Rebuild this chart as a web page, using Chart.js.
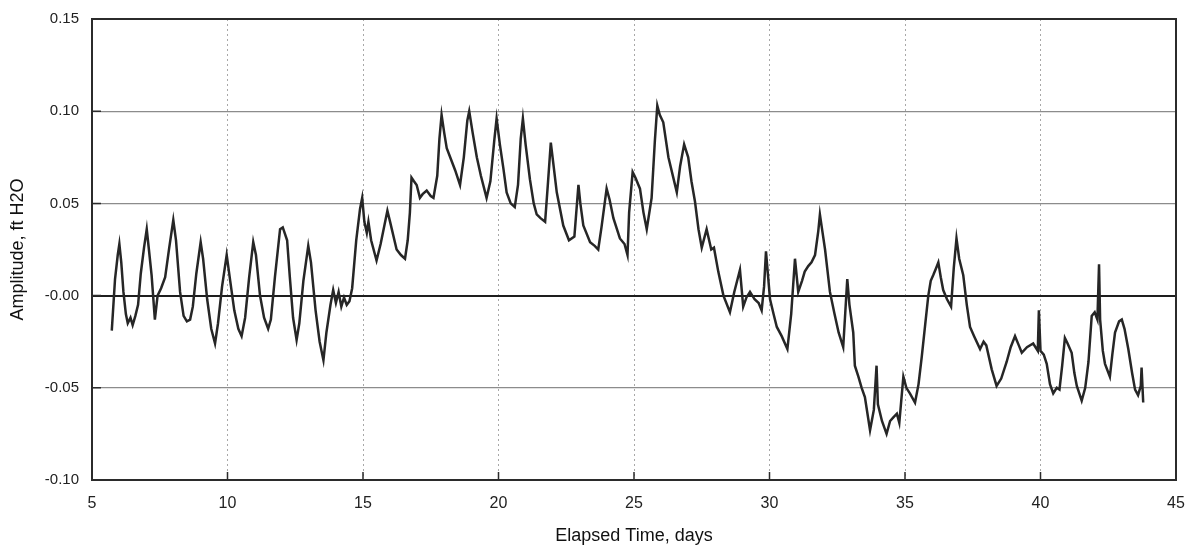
<!DOCTYPE html>
<html>
<head>
<meta charset="utf-8">
<title>Amplitude vs Elapsed Time</title>
<script src="https://cdn.jsdelivr.net/npm/chart.js@4.4.1/dist/chart.umd.min.js"></script>
<style>
  body { margin: 0; background: #fff; }
  .chartBox { width: 1188px; height: 547px; position: relative; }
</style>
</head>
<body>
<div class="chartBox">
  <canvas id="myChart"></canvas>
</div>
<script>
// elapsed time (days)
const days = [
  5.73, 5.85, 5.95, 6.01, 6.08, 6.16, 6.25, 6.32, 6.42, 6.5, 6.6, 6.7, 6.8, 6.92,
  7.02, 7.1, 7.2, 7.32, 7.42, 7.55, 7.7, 7.85, 8.0, 8.1, 8.25, 8.38, 8.5, 8.62,
  8.72, 8.85, 9.01, 9.1, 9.25, 9.4, 9.54, 9.65, 9.8, 9.97, 10.1, 10.25, 10.4,
  10.52, 10.65, 10.8, 10.95, 11.05, 11.2, 11.35, 11.5, 11.6, 11.75, 11.94, 12.04,
  12.2, 12.3, 12.42, 12.55, 12.65, 12.8, 12.98, 13.08, 13.25, 13.4, 13.54, 13.65,
  13.8, 13.9, 14.0, 14.1, 14.2, 14.3, 14.4, 14.5, 14.6, 14.75, 14.89, 14.97,
  15.05, 15.14, 15.2, 15.3, 15.5, 15.65, 15.9, 16.0, 16.24, 16.4, 16.55, 16.65,
  16.73, 16.79, 16.88, 16.98, 17.1, 17.2, 17.35, 17.5, 17.6, 17.74, 17.82, 17.9,
  18.0, 18.09, 18.27, 18.4, 18.58, 18.72, 18.85, 18.92, 19.05, 19.2, 19.35,
  19.56, 19.7, 19.85, 19.93, 20.05, 20.18, 20.3, 20.45, 20.6, 20.72, 20.82, 20.9,
  21.0, 21.16, 21.3, 21.41, 21.55, 21.72, 21.82, 21.93, 22.02, 22.15, 22.39,
  22.6, 22.8, 22.95, 23.02, 23.13, 23.38, 23.55, 23.68, 23.8, 23.99, 24.1, 24.24,
  24.48, 24.65, 24.76, 24.82, 24.95, 25.05, 25.22, 25.35, 25.47, 25.65, 25.77,
  25.86, 25.95, 26.08, 26.27, 26.45, 26.58, 26.7, 26.85, 27.0, 27.12, 27.25,
  27.38, 27.5, 27.68, 27.85, 27.95, 28.11, 28.3, 28.54, 28.7, 28.91, 29.03,
  29.15, 29.28, 29.45, 29.6, 29.71, 29.8, 29.87, 29.95, 30.02, 30.15, 30.27,
  30.45, 30.66, 30.8, 30.94, 31.06, 31.2, 31.3, 31.43, 31.55, 31.68, 31.8, 31.86,
  31.95, 32.05, 32.23, 32.4, 32.55, 32.72, 32.87, 32.95, 33.09, 33.15, 33.28,
  33.4, 33.52, 33.71, 33.85, 33.95, 34.0, 34.15, 34.32, 34.45, 34.57, 34.7,
  34.79, 34.94, 35.05, 35.18, 35.37, 35.5, 35.62, 35.75, 35.86, 35.95, 36.04,
  36.15, 36.23, 36.32, 36.41, 36.55, 36.7, 36.8, 36.9, 37.0, 37.15, 37.28, 37.4,
  37.55, 37.77, 37.9, 38.0, 38.2, 38.38, 38.55, 38.75, 38.9, 39.06, 39.2, 39.31,
  39.5, 39.73, 39.9, 39.94, 40.0, 40.12, 40.23, 40.35, 40.47, 40.6, 40.7, 40.8,
  40.9, 41.0, 41.15, 41.25, 41.34, 41.52, 41.65, 41.77, 41.89, 42.0, 42.1, 42.16,
  42.2, 42.3, 42.38, 42.56, 42.65, 42.75, 42.9, 43.0, 43.1, 43.24, 43.38, 43.49,
  43.6, 43.7, 43.73, 43.79
];

// amplitude (ft H2O) at each of the times above
const amplitude = [
  -0.019, 0.009, 0.022, 0.028, 0.018, 0.002, -0.010, -0.015, -0.012, -0.016, -0.011, -0.005, 0.012, 0.026,
  0.036, 0.025, 0.011, -0.013, 0.000, 0.004, 0.010, 0.026, 0.041, 0.030, 0.002, -0.011, -0.014, -0.013,
  -0.006, 0.012, 0.029, 0.020, -0.002, -0.018, -0.026, -0.015, 0.005, 0.022, 0.008, -0.008, -0.018,
  -0.022, -0.012, 0.010, 0.029, 0.022, 0.000, -0.012, -0.018, -0.013, 0.010, 0.036, 0.037,
  0.030, 0.010, -0.012, -0.024, -0.015, 0.008, 0.027, 0.018, -0.008, -0.025, -0.035, -0.020,
  -0.005, 0.003, -0.004, 0.002, -0.006, -0.001, -0.005, -0.003, 0.004, 0.030, 0.047, 0.053,
  0.040, 0.034, 0.040, 0.030, 0.019, 0.028, 0.046, 0.040, 0.025, 0.022, 0.020, 0.030,
  0.045, 0.064, 0.062, 0.060, 0.053, 0.055, 0.057, 0.054, 0.053, 0.065, 0.085, 0.098,
  0.088, 0.080, 0.073, 0.068, 0.060, 0.075, 0.095, 0.100, 0.088, 0.075, 0.065,
  0.053, 0.062, 0.085, 0.096, 0.082, 0.069, 0.056, 0.050, 0.048, 0.060, 0.085, 0.096,
  0.082, 0.063, 0.050, 0.044, 0.042, 0.040, 0.060, 0.083, 0.072, 0.056, 0.038,
  0.030, 0.032, 0.060, 0.050, 0.038, 0.029, 0.027, 0.025, 0.037, 0.058, 0.052, 0.042,
  0.031, 0.028, 0.022, 0.045, 0.067, 0.064, 0.058, 0.045, 0.036, 0.053, 0.084,
  0.103, 0.098, 0.094, 0.075, 0.064, 0.056, 0.070, 0.082, 0.075, 0.062, 0.051,
  0.036, 0.026, 0.036, 0.025, 0.026, 0.013, 0.000, -0.009, 0.002, 0.014, -0.006,
  -0.001, 0.002, -0.002, -0.004, -0.008, 0.005, 0.024, 0.010, -0.002, -0.010, -0.017,
  -0.022, -0.029, -0.010, 0.020, 0.002, 0.008, 0.013, 0.016, 0.018, 0.022, 0.035, 0.044,
  0.035, 0.025, 0.002, -0.010, -0.020, -0.028, 0.009, -0.005, -0.020, -0.038, -0.044,
  -0.050, -0.055, -0.073, -0.062, -0.038, -0.059, -0.068, -0.075, -0.068, -0.066, -0.064,
  -0.069, -0.044, -0.050, -0.053, -0.058, -0.048, -0.033, -0.015, 0.000, 0.008, 0.011,
  0.015, 0.018, 0.010, 0.003, -0.002, -0.006, 0.015, 0.031, 0.020, 0.011, -0.005, -0.017,
  -0.022, -0.029, -0.025, -0.027, -0.040, -0.049, -0.045, -0.036, -0.028, -0.022, -0.027, -0.031,
  -0.028, -0.026, -0.030, -0.008, -0.030, -0.032, -0.037, -0.048, -0.053, -0.050, -0.051, -0.038,
  -0.023, -0.026, -0.031, -0.042, -0.049, -0.057, -0.050, -0.036, -0.011, -0.009, -0.013, 0.017,
  -0.013, -0.030, -0.037, -0.044, -0.032, -0.020, -0.014, -0.013, -0.018, -0.029, -0.042, -0.051,
  -0.054, -0.049, -0.039, -0.058
];

// axis ticks
const xTicks = [5, 10, 15, 20, 25, 30, 35, 40, 45];
const yTicks = [-0.10, -0.05, 0.00, 0.05, 0.10, 0.15];
const yTickLabels = ['-0.10', '-0.05', '-0.00', '0.05', '0.10', '0.15'];

const points = days.map((d, i) => ({ x: d, y: amplitude[i] }));

const fontFamily = "'Liberation Sans', Arial, sans-serif";

// box round the plot plus the short inward tick marks
const framePlugin = {
  id: 'frame',
  afterDatasetsDraw(chart) {
    const { ctx, chartArea: a, scales } = chart;
    ctx.save();
    ctx.strokeStyle = '#2b2b2b';
    ctx.lineWidth = 1.5;
    ctx.beginPath();
    yTicks.forEach(v => {
      const py = scales.y.getPixelForValue(v);
      ctx.moveTo(a.left, py);
      ctx.lineTo(a.left + 9, py);
    });
    xTicks.forEach(v => {
      const px = scales.x.getPixelForValue(v);
      ctx.moveTo(px, a.bottom);
      ctx.lineTo(px, a.bottom - 8);
    });
    ctx.stroke();
    ctx.lineWidth = 2;
    ctx.strokeRect(a.left, a.top, a.right - a.left, a.bottom - a.top);
    ctx.restore();
  }
};

const ctx = document.getElementById('myChart').getContext('2d');
const myChart = new Chart(ctx, {
  type: 'line',
  data: {
    datasets: [
      {
        label: 'Amplitude',
        data: points,
        borderColor: '#262626',
        borderWidth: 2.5,
        pointRadius: 0,
        tension: 0,
        fill: false,
      },
    ],
  },
  options: {
    responsive: true,
    maintainAspectRatio: false,
    animation: false,
    layout: {
      padding: { top: 19, right: 12, left: 0, bottom: 0 },
    },
    scales: {
      x: {
        type: 'linear',
        min: 5,
        max: 45,
        afterBuildTicks: function (scale) {
          scale.ticks = xTicks.map(v => ({ value: v }));
        },
        afterFit: function (scale) {
          scale.height = 67;
          // let layout.padding decide the side margins
          scale.paddingLeft = 0;
          scale.paddingRight = 0;
        },
        ticks: {
          color: '#222',
          padding: 14,
          maxRotation: 0,
          font: { family: fontFamily, size: 16 },
          callback: function (value) {
            return String(value);
          },
        },
        grid: {
          color: '#a8a8a8',
          lineWidth: 1,
          drawTicks: false,
        },
        border: {
          display: false,
          dash: [2, 3],
        },
        title: {
          display: true,
          text: 'Elapsed Time, days',
          color: '#111',
          font: { family: fontFamily, size: 18 },
          padding: { top: 5, bottom: 0 },
        },
      },
      y: {
        type: 'linear',
        min: -0.10,
        max: 0.15,
        afterBuildTicks: function (scale) {
          scale.ticks = yTicks.map(v => ({ value: v }));
        },
        afterFit: function (scale) {
          scale.width = 92;
          scale.paddingTop = 0;
          scale.paddingBottom = 0;
        },
        ticks: {
          color: '#222',
          padding: 13,
          font: { family: fontFamily, size: 15 },
          callback: function (value) {
            const i = yTicks.findIndex(t => Math.abs(t - value) < 1e-9);
            return i >= 0 ? yTickLabels[i] : '';
          },
        },
        grid: {
          drawTicks: false,
          color: function (c) {
            return c.tick && Math.abs(c.tick.value) < 1e-9 ? '#1e1e1e' : '#8c8c8c';
          },
          lineWidth: function (c) {
            return c.tick && Math.abs(c.tick.value) < 1e-9 ? 2 : 1.2;
          },
        },
        border: {
          display: false,
        },
        title: {
          display: true,
          text: 'Amplitude, ft H2O',
          color: '#111',
          font: { family: fontFamily, size: 18 },
          padding: { top: 7, bottom: 0 },
        },
      },
    },
    plugins: {
      legend: { display: false },
      tooltip: { enabled: false },
    },
  },
  plugins: [framePlugin],
});
</script>
</body>
</html>
